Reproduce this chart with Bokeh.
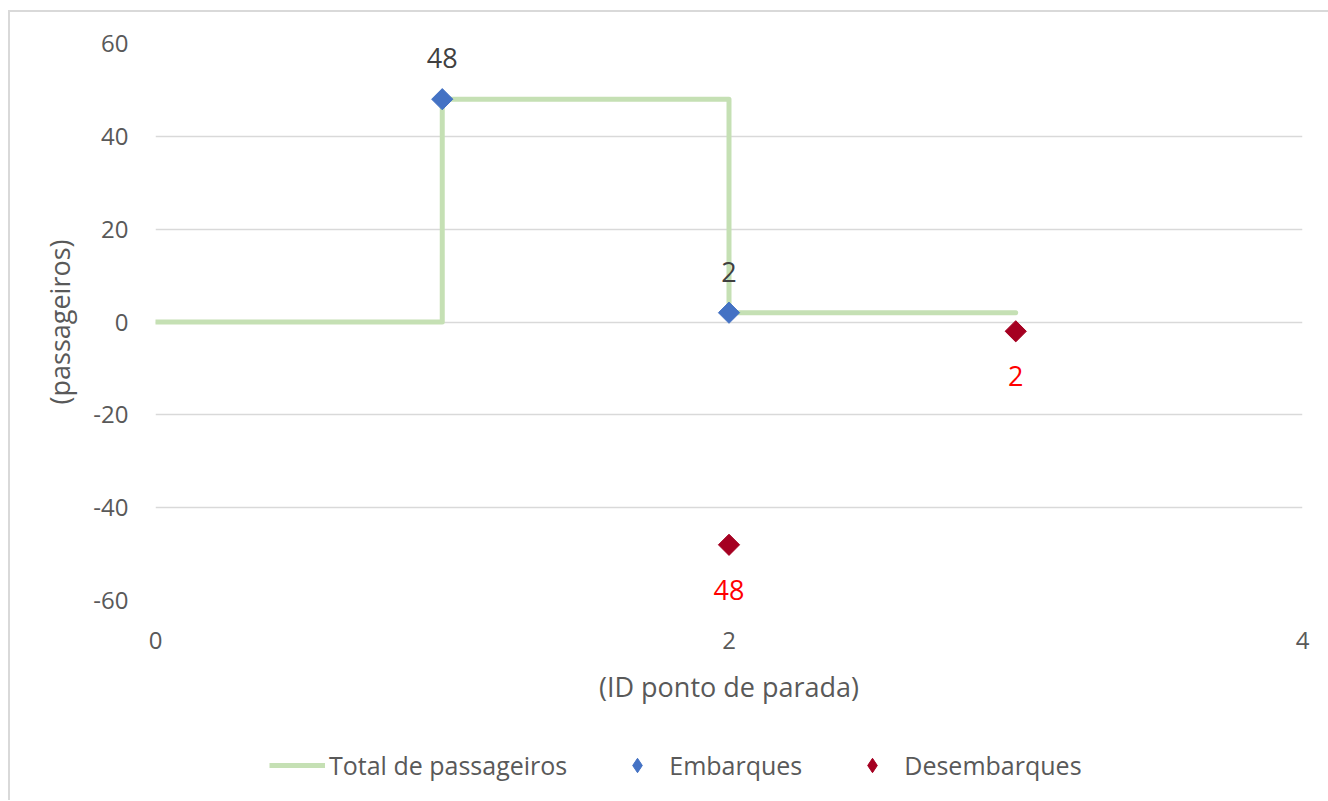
from bokeh.plotting import figure
from bokeh.layouts import column
from bokeh.models import ColumnDataSource, LabelSet, Legend, LegendItem, FixedTicker
from bokeh.core.properties import value
from bokeh.embed import file_html
from bokeh.resources import INLINE
import math

# ---- data ----
stop_ids = [0, 1, 1, 2, 2, 3]
total_passageiros = [0, 0, 48, 48, 2, 2]
emb_x = [1, 2]
emb_y = [48, 2]
des_x = [2, 3]
des_y = [-48, -2]
x_ticks = [0, 2, 4]
y_ticks = [-60, -40, -20, 0, 20, 40, 60]

FONT = "Open Sans"
TXT = "#595959"
GRID = "#d9d9d9"
GREEN = "#C5E0B4"
BLUE = "#4472C4"
DRED = "#A50021"

total_src = ColumnDataSource(dict(x=stop_ids, y=total_passageiros))
emb_src = ColumnDataSource(dict(x=emb_x, y=emb_y, t=[str(v) for v in emb_y]))
des_src = ColumnDataSource(dict(x=des_x, y=des_y, t=[str(abs(v)) for v in des_y]))

# ---- main chart ----
p = figure(width=1318, height=708, x_range=(0, 4), y_range=(-60, 60),
           output_backend="svg", toolbar_location=None,
           min_border_left=145, min_border_top=31, min_border_right=26,
           min_border_bottom=120)
p.outline_line_color = None
p.background_fill_color = "white"
p.border_fill_color = "white"

p.xgrid.grid_line_color = None
p.ygrid.grid_line_color = GRID
p.ygrid.grid_line_width = 1.5
p.ygrid.ticker = FixedTicker(ticks=y_ticks)

for ax in (p.xaxis[0], p.yaxis[0]):
    ax.axis_line_color = None
    ax.major_tick_line_color = None
    ax.minor_tick_line_color = None
    ax.major_tick_in = 0
    ax.major_tick_out = 0
    ax.major_label_text_font = FONT
    ax.major_label_text_font_size = "24px"
    ax.major_label_text_color = TXT
    ax.axis_label_text_font = FONT
    ax.axis_label_text_font_size = "27px"
    ax.axis_label_text_color = TXT
    ax.axis_label_text_font_style = "normal"

p.xaxis.ticker = FixedTicker(ticks=x_ticks)
p.yaxis.ticker = FixedTicker(ticks=y_ticks)
p.yaxis.major_label_overrides = {v: str(v) for v in y_ticks}
p.xaxis.axis_label = "(ID ponto de parada)"
p.yaxis.axis_label = "(passageiros)"
p.xaxis.major_label_standoff = 31
p.xaxis.axis_label_standoff = 16
p.yaxis.major_label_standoff = 27
p.yaxis.axis_label_standoff = 12

p.line("x", "y", source=total_src, line_color=GREEN, line_width=5,
       line_join="round", line_cap="round")
p.scatter("x", "y", source=emb_src, marker="square", angle=math.pi / 4,
          size=15, fill_color=BLUE, line_color=BLUE)
p.scatter("x", "y", source=des_src, marker="square", angle=math.pi / 4,
          size=15, fill_color=DRED, line_color=DRED)

p.add_layout(LabelSet(x="x", y="y", text="t", source=emb_src, y_offset=41,
                      text_align="center", text_baseline="middle",
                      text_font=value(FONT), text_font_size="27px", text_color="#404040"))
p.add_layout(LabelSet(x="x", y="y", text="t", source=des_src, y_offset=-45,
                      text_align="center", text_baseline="middle",
                      text_font=value(FONT), text_font_size="27px", text_color="#FF0000"))

# ---- legend strip (same series, drawn out of view; only the legend shows) ----
lf = figure(width=1318, height=80, x_range=(0, 4), y_range=(100, 200),
            output_backend="svg", toolbar_location=None,
            x_axis_type=None, y_axis_type=None,
            min_border_left=0, min_border_right=0, min_border_top=0, min_border_bottom=0)
lf.outline_line_color = None
lf.xgrid.grid_line_color = None
lf.ygrid.grid_line_color = None
lf.border_fill_color = "white"
lf.background_fill_color = "white"

l_line = lf.line("x", "y", source=total_src, line_color=GREEN, line_width=5)
l_emb = lf.scatter("x", "y", source=emb_src, marker="diamond", size=16,
                   fill_color=BLUE, line_color=BLUE)
l_des = lf.scatter("x", "y", source=des_src, marker="diamond", size=16,
                   fill_color=DRED, line_color=DRED)

legend = Legend(items=[
    LegendItem(label="Total de passageiros", renderers=[l_line]),
    LegendItem(label="Embarques", renderers=[l_emb]),
    LegendItem(label="Desembarques", renderers=[l_des]),
], orientation="horizontal", location=(114, 17))
legend.label_text_font = FONT
legend.label_text_font_size = "25px"
legend.label_text_color = TXT
legend.border_line_color = None
legend.background_fill_alpha = 0
legend.glyph_width = 56
legend.glyph_height = 36
legend.label_standoff = 4
legend.spacing = 42
legend.margin = 0
legend.padding = 0
lf.add_layout(legend)

layout = column(p, lf, spacing=0)
layout.styles = {"margin-left": "8px", "margin-top": "10px",
                 "border-top": "2px solid #d9d9d9", "border-left": "2px solid #d9d9d9"}

open("out.html", "w").write(file_html(layout, INLINE))
